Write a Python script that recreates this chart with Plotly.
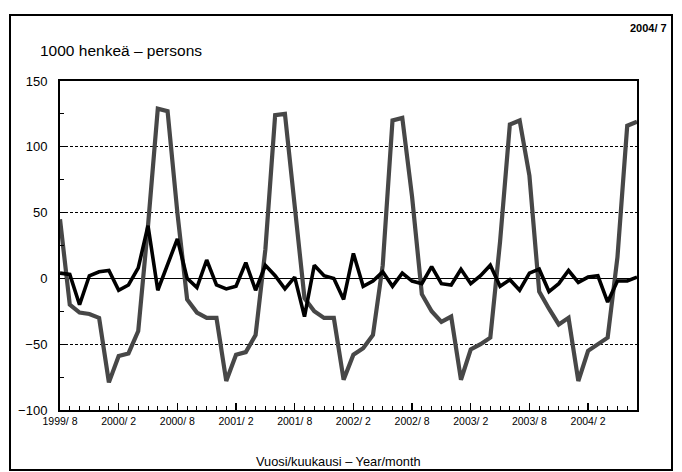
import plotly.graph_objects as go

# ---- data -------------------------------------------------------------
months = [f"{1999 + (7 + k) // 12}/ {(7 + k) % 12 + 1}" for k in range(60)]  # 1999/8 .. 2004/7

big_series = [45, -20, -26, -27, -30, -79, -59, -57, -40, 40,
              129, 127, 50, -16, -26, -30, -30, -78, -58, -56,
              -43, 22, 124, 125, 55, -15, -25, -30, -30, -77,
              -58, -53, -43, 10, 120, 122, 62, -12, -25, -33,
              -29, -77, -54, -50, -45, 28, 117, 120, 78, -10,
              -23, -35, -30, -78, -55, -50, -45, 16, 116, 119]

small_series = [4, 3, -20, 2, 5, 6, -9, -5, 8, 40,
                -9, 10, 30, 0, -7, 14, -5, -8, -6, 12,
                -9, 10, 2, -8, 1, -29, 10, 2, 0, -16,
                19, -6, -2, 5, -6, 4, -2, -4, 9, -4,
                -5, 7, -4, 2, 10, -6, -1, -9, 4, 7,
                -10, -4, 6, -3, 1, 2, -18, -2, -2, 1]

tick_idx = list(range(0, 60, 6))
tick_labels = [months[i] for i in tick_idx]
y_ticks = [-100, -50, 0, 50, 100, 150]

# ---- layout geometry (pixels) -----------------------------------------
W, H = 682, 472
L, R, T, B = 60, 637, 81, 410
pw, ph = R - L, B - T


def px(x):
    return (x - L) / pw


def py(y):
    return (B - y) / ph


FONT = "Liberation Sans, Arial, sans-serif"

x = list(range(len(months)))

fig = go.Figure()
fig.add_trace(go.Scatter(x=x, y=big_series, mode="lines",
                         line=dict(color="#474747", width=4.2), hoverinfo="skip"))
fig.add_trace(go.Scatter(x=x, y=small_series, mode="lines",
                         line=dict(color="#000000", width=3.6), hoverinfo="skip"))

fig.update_layout(
    width=W, height=H,
    margin=dict(l=L, r=W - R, t=T, b=H - B, pad=0),
    paper_bgcolor="white", plot_bgcolor="white",
    showlegend=False,
    font=dict(family=FONT, color="black", size=13),
    xaxis=dict(
        range=[0, len(months) - 1],
        tickmode="array", tickvals=tick_idx, ticktext=tick_labels,
        ticks="inside", ticklen=7, tickwidth=1.2, tickcolor="black",
        tickfont=dict(size=10.5, family=FONT),
        showline=True, linecolor="black", linewidth=2, mirror=True,
        showgrid=False, zeroline=False,
        minor=dict(tickmode="linear", tick0=0, dtick=1, ticks="inside",
                   ticklen=4, tickwidth=1, tickcolor="black", showgrid=False),
    ),
    yaxis=dict(
        range=[-100, 150],
        tickmode="array", tickvals=y_ticks,
        ticks="inside", ticklen=5, tickwidth=1.2, tickcolor="black",
        tickfont=dict(size=13, family=FONT),
        ticklabelstandoff=8,
        showline=True, linecolor="black", linewidth=2, mirror=True,
        showgrid=True, gridcolor="black", gridwidth=1, griddash="3px,2px",
        zeroline=True, zerolinecolor="black", zerolinewidth=1.6,
        minor=dict(tickmode="linear", tick0=0, dtick=25, ticks="inside",
                   ticklen=4, tickwidth=1, tickcolor="black", showgrid=False),
    ),
    shapes=[dict(type="rect", xref="paper", yref="paper",
                 x0=px(10), x1=px(672), y0=py(470), y1=py(15),
                 line=dict(color="black", width=2), layer="below")],
    annotations=[
        dict(text="1000 henkeä – persons", xref="paper", yref="paper",
             x=px(38), y=py(50), xanchor="left", yanchor="middle",
             showarrow=False, font=dict(size=15.5, family=FONT)),
        dict(text="<b>2004/ 7</b>", xref="paper", yref="paper",
             x=px(669), y=py(28), xanchor="right", yanchor="middle",
             showarrow=False, font=dict(size=11, family=FONT)),
        dict(text="Vuosi/kuukausi – Year/month", xref="paper", yref="paper",
             x=px(338), y=py(462), xanchor="center", yanchor="middle",
             showarrow=False, font=dict(size=12.8, family=FONT)),
    ],
)

fig.write_html("out.html",
               config={"displayModeBar": False, "staticPlot": True},
               post_script="document.body.style.margin='0';"
                           "document.body.style.overflow='hidden';")
